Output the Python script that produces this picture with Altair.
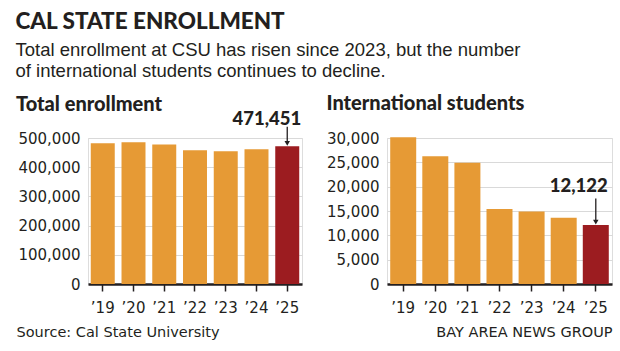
import altair as alt
import pandas as pd

years = ["’19", "’20", "’21", "’22", "’23", "’24", "’25"]
total = [482000, 485550, 477500, 458000, 454500, 461600, 471451]
intl = [30150, 26270, 24900, 15400, 14900, 13600, 12122]
highlight = ["no", "no", "no", "no", "no", "no", "yes"]

total_ticks = [0, 100000, 200000, 300000, 400000, 500000]
intl_ticks = [0, 5000, 10000, 15000, 20000, 25000, 30000]

ORANGE = "#E69A35"
RED = "#9C1C20"
INK = "#231F20"
AXIS_FONT = "DejaVu Sans"
HEAVY_FONT = "Lato"


def panel(values, title, ymax, yticks, width, pi, po, dx, dy, arrow_top,
          src, src_x, src_align, title_offset):
    df = pd.DataFrame({"year": years, "value": values, "hl": highlight})
    base = alt.Chart(df).encode(
        x=alt.X(
            "year:N",
            sort=years,
            scale=alt.Scale(paddingInner=pi, paddingOuter=po),
            axis=alt.Axis(
                title=src,
                titleX=src_x,
                titleY=52.5,
                titleAlign=src_align,
                titleAnchor="start",
                titleBaseline="alphabetic",
                titleFont=AXIS_FONT,
                titleFontSize=14.5,
                titleFontWeight="normal",
                titleColor=INK,
                labelAngle=0,
                labelFont=AXIS_FONT,
                labelFontSize=15,
                labelColor=INK,
                labelPadding=9,
                domainColor=INK,
                domainWidth=2.5,
                tickColor=INK,
                tickWidth=1.5,
                tickSize=7,
                grid=False,
            ),
        ),
        y=alt.Y(
            "value:Q",
            scale=alt.Scale(domain=[0, ymax], nice=False),
            axis=alt.Axis(
                title=None,
                values=yticks,
                format=",d",
                domain=False,
                ticks=False,
                tickSize=0,
                labelPadding=8,
                labelFont=AXIS_FONT,
                labelFontSize=15,
                labelColor=INK,
                gridColor="#D9D9D9",
                gridWidth=1,
            ),
        ),
    )
    bars = base.mark_bar().encode(
        color=alt.Color(
            "hl:N",
            scale=alt.Scale(domain=["no", "yes"], range=[ORANGE, RED]),
            legend=None,
        )
    )
    ann = base.transform_filter("datum.hl == 'yes'")
    label = ann.mark_text(
        align="right", baseline="alphabetic", dx=dx, dy=dy,
        font=HEAVY_FONT, fontSize=18.5, fontWeight=900, color=INK,
    ).encode(text=alt.Text("value:Q", format=",d"))
    shaft = ann.mark_rule(
        color=INK, strokeWidth=1.3, yOffset=-arrow_top, y2Offset=-4
    ).encode(y2="value:Q")
    head = ann.mark_point(
        shape="triangle-down", filled=True, size=30, color=INK,
        opacity=1, yOffset=-3,
    )
    return alt.layer(bars, label, shaft, head).properties(
        width=width,
        height=146,
        title=alt.TitleParams(
            title,
            anchor="start",
            font=HEAVY_FONT,
            fontSize=20,
            fontWeight=900,
            color=INK,
            offset=title_offset,
        ),
    )


left = panel(total, "Total enrollment", 500000, total_ticks, 214, 0.22, 0.09,
             14, -21, 19.6, "Source: Cal State University", -72, "left", -5)
right = panel(intl, "International students", 30000, intl_ticks, 225, 0.19, 0.1,
              12, -32.6, 26.6, "BAY AREA NEWS GROUP", 225, "right", 17)

chart = alt.hconcat(left, right, spacing=23).properties(
    title=alt.TitleParams(
        "CAL STATE ENROLLMENT",
        subtitle=[
            "Total enrollment at CSU has risen since 2023, but the number",
            "of international students continues to decline.",
        ],
        anchor="start",
        font=HEAVY_FONT,
        fontSize=22.5,
        fontWeight=900,
        color=INK,
        subtitleFont="Liberation Sans",
        subtitleFontSize=18.5,
        subtitleColor=INK,
        subtitleLineHeight=21,
        subtitlePadding=8,
        offset=13,
    ),
    padding={"left": 15, "top": 10, "right": 5, "bottom": 8},
).configure_view(stroke=None).configure(background="white")

chart.save("out.html", embed_options={"renderer": "svg", "actions": False})
